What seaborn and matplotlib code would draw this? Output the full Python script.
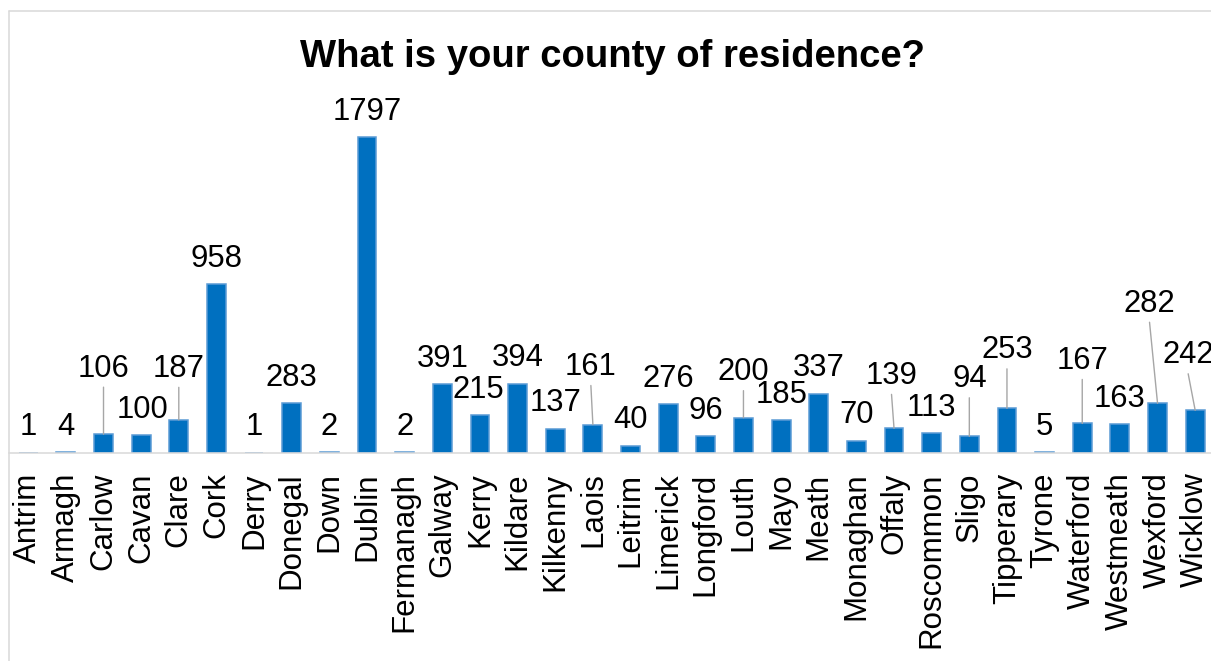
import matplotlib
matplotlib.use("Agg")
import matplotlib.pyplot as plt
import seaborn as sns
from matplotlib.lines import Line2D

counties = ["Antrim", "Armagh", "Carlow", "Cavan", "Clare", "Cork", "Derry", "Donegal",
            "Down", "Dublin", "Fermanagh", "Galway", "Kerry", "Kildare", "Kilkenny", "Laois",
            "Leitrim", "Limerick", "Longford", "Louth", "Mayo", "Meath", "Monaghan", "Offaly",
            "Roscommon", "Sligo", "Tipperary", "Tyrone", "Waterford", "Westmeath", "Wexford",
            "Wicklow"]
responses = [1, 4, 106, 100, 187, 958, 1, 283,
             2, 1797, 2, 391, 215, 394, 137, 161,
             40, 276, 96, 200, 185, 337, 70, 139,
             113, 94, 253, 5, 167, 163, 282,
             242]
title = "What is your county of residence?"

# labels that were dragged away from the bar (dx px, extra lift px), leader line drawn
moved = {"Carlow": (0, 40), "Clare": (0, 25.6), "Laois": (-2, 32), "Louth": (0, 20),
         "Offaly": (-2.5, 27), "Sligo": (0, 31.5), "Tipperary": (0, 32.5),
         "Waterford": (0, 37), "Wexford": (-8, 74), "Wicklow": (-7, 29.5)}
nudged = {"Kerry": -2, "Cavan": 1}

sns.set_style("white")
plt.rcParams["font.family"] = ["Liberation Sans", "DejaVu Sans"]
plt.rcParams["text.color"] = "black"
plt.rcParams["xtick.labelcolor"] = "black"

W, H = 1211, 661
fig = plt.figure(figsize=(W / 100, H / 100), dpi=100)
ax = fig.add_axes([9.4 / W, 1 - 452.8 / H, 1204.6 / W, 351.4 / H])

sns.barplot(x=counties, y=responses, color="#0070C0", saturation=1, width=0.5,
            edgecolor="#5B9BD5", linewidth=1.1, ax=ax)
ax.set_xlim(-0.5, 31.5)
ax.set_ylim(0, 2000)
ax.set_yticks([])
ax.set_xlabel("")
ax.set_ylabel("")
for s in ["top", "left", "right"]:
    ax.spines[s].set_visible(False)
ax.spines["bottom"].set_color("#D9D9D9")
ax.spines["bottom"].set_linewidth(1.1)
ax.tick_params(axis="x", length=0, pad=14.2, labelsize=22.5, rotation=90,
               labelcolor="black")

px = 0.72  # px -> points
for i, (name, v) in enumerate(zip(counties, responses)):
    dx, extra = moved.get(name, (nudged.get(name, 0), 0))
    cy = 28.5 + extra
    ax.annotate(str(v), xy=(i, v), xytext=(dx * px, (cy - 11.1) * px),
                textcoords="offset points", ha="center", va="baseline",
                fontsize=22.3, color="black", annotation_clip=False)
    if name in moved:
        ax.annotate("", xy=(i, v), xytext=(dx * px, (cy - 21.5) * px),
                    textcoords="offset points",
                    arrowprops=dict(arrowstyle="-", color="#A6A6A6", lw=1.0,
                                    shrinkA=0, shrinkB=0))

fig.text(612.7 / W, 1 - 66.7 / H, title, ha="center", va="baseline",
         fontsize=27.5, fontweight="bold", color="black")

# chart area border (only top and left visible in crop)
fig.add_artist(Line2D([9 / W, 1], [1 - 11 / H, 1 - 11 / H], color="#D9D9D9", lw=1.1,
                      transform=fig.transFigure))
fig.add_artist(Line2D([9 / W, 9 / W], [0, 1 - 11 / H], color="#D9D9D9", lw=1.1,
                      transform=fig.transFigure))

fig.savefig("out.png", dpi=100, facecolor="white")
